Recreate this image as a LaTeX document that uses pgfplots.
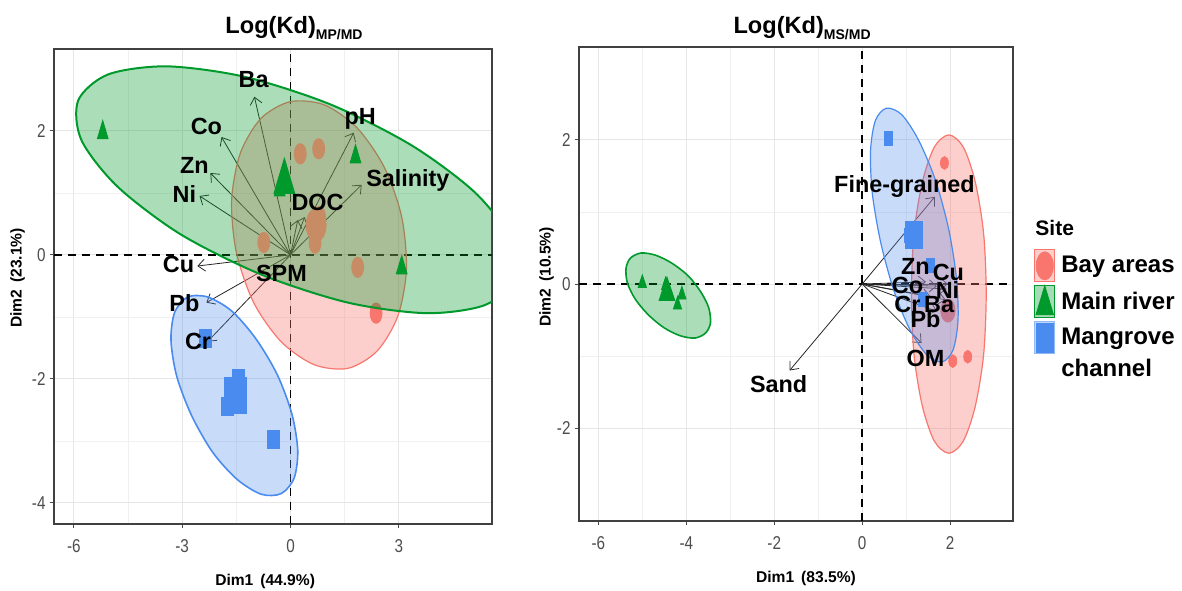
\documentclass[border=0pt]{standalone}
\usepackage{fontspec}
\setmainfont{Liberation Sans}
\newfontfamily\tickfont[FakeStretch=0.82]{Liberation Sans}
\usepackage{pgfplots}
\pgfplotsset{compat=1.18}
\usetikzlibrary{arrows.meta}
\definecolor{bay}{HTML}{F8766D}
\definecolor{bayb}{HTML}{C88C64}
\definecolor{riv}{HTML}{00992B}
\definecolor{man}{HTML}{4A8BEF}
\definecolor{grd}{HTML}{E6E6E6}
\definecolor{tkc}{HTML}{4D4D4D}
\pgfplotsset{
  pcabase/.style={
    scale only axis,
    clip marker paths=true,
    axis line style={draw=black!75, line width=0.7pt},
    tick align=outside,
    tick pos=left,
    major tick length=2.2pt,
    minor tick length=0pt,
    tick style={black!70, line width=0.5pt},
    grid=both,
    minor tick num=1,
    major grid style={grd, line width=0.5pt},
    minor grid style={grd!60, line width=0.3pt},
    ticklabel style={font=\fontsize{9.3}{11}\tickfont, text=tkc},
    xticklabel style={yshift=-2pt},
    yticklabel style={xshift=1.5pt},
    /pgf/number format/assume math mode=true,
    label style={font=\fontsize{7.8}{9}\selectfont\bfseries},
    title style={font=\fontsize{11.8}{13}\selectfont\bfseries},
  },
}
\tikzset{
  lab/.style={font=\fontsize{11.7}{13}\selectfont\bfseries, anchor=base, inner sep=0pt},
  vec/.style={black!85, line width=0.4pt, -{Straight Barb[length=3.5pt,width=6pt]}},
  refl/.style={black, line width=0.8pt, dash pattern=on 4pt off 3pt},
}
\begin{document}
\begin{tikzpicture}
\useasboundingbox (0,0) rectangle (591pt,295pt);
% ---------------- left panel ----------------
\begin{axis}[pcabase, at={(27pt,33pt)}, anchor=south west, width=219pt, height=237.5pt,
  xmin=-6.55, xmax=5.58, ymin=-4.34, ymax=3.32,
  xtick={-6,-3,0,3}, ytick={-4,-2,0,2},
  title={Log(Kd)\raisebox{-0.45ex}{\fontsize{7}{8}\selectfont MP/MD}},
  title style={at={(0.548,1)}, anchor=base, yshift=1.5pt},
  xlabel={Dim1\, (44.9\%)}, xlabel style={at={(0.482,0)}, anchor=base, yshift=-30.5pt},
  ylabel={Dim2\, (23.1\%)}, ylabel style={at={(-0.0833,0.518)}, anchor=center},
]
\addplot[refl] coordinates {(-6.55,0) (5.58,0)};
\addplot[refl] coordinates {(0,-4.34) (0,3.32)};
% variable arrows
\addplot[vec] coordinates {(0,0) (-1.00,2.55)};
\addplot[vec] coordinates {(0,0) (-1.91,1.90)};
\addplot[vec] coordinates {(0,0) (-2.22,1.32)};
\addplot[vec] coordinates {(0,0) (-2.52,0.95)};
\addplot[vec] coordinates {(0,0) (1.75,1.97)};
\addplot[vec] coordinates {(0,0) (1.97,1.13)};
\addplot[vec] coordinates {(0,0) (0.39,0.61)};
\addplot[vec] coordinates {(0,0) (0.20,0.56)};
\addplot[vec] coordinates {(0,0) (-2.58,-0.18)};
\addplot[vec] coordinates {(0,0) (-2.33,-0.77)};
\addplot[vec] coordinates {(0,0) (-2.30,-1.40)};
% Bay areas ellipse
\addplot[draw=bay, line width=0.6pt, fill=bay, fill opacity=0.35, smooth cycle] coordinates {
 (1.59,-1.83) (2.40,-1.55) (2.97,-0.99) (3.21,-0.24) (3.08,0.61) (2.60,1.41) (1.84,2.05) (0.93,2.42)
 (-0.01,2.47) (-0.82,2.20) (-1.39,1.64) (-1.63,0.88) (-1.50,0.04) (-1.02,-0.77) (-0.26,-1.40) (0.65,-1.77)};
\addplot[only marks, mark=*, mark size=3pt, color=bay, mark options={yscale=1.7}] coordinates {
 (2.37,-0.94)};
\addplot[only marks, mark=triangle*, mark size=3.13pt, color=riv, mark options={yscale=1.95}] coordinates {
 (-5.20,1.97) (1.80,1.58) (3.08,-0.21) (-0.30,1.05)};
% Main river ellipse
\addplot[draw=riv, line width=1pt, fill=riv, fill opacity=0.33, smooth cycle] coordinates {
 (6.21,-0.39) (5.38,-0.81) (3.76,-0.94) (1.59,-0.77) (-0.80,-0.32) (-3.04,0.33) (-4.79,1.10) (-5.79,1.85)
 (-5.88,2.49) (-5.05,2.91) (-3.42,3.04) (-1.26,2.87) (1.13,2.42) (3.37,1.76) (5.12,1.00) (6.12,0.24)};
% Bay-area points seen through the green ellipse
\addplot[only marks, mark=*, mark size=3pt, color=bayb, mark options={yscale=1.7}] coordinates {
 (0.27,1.63) (0.78,1.71) (-0.74,0.20) (0.68,0.19) (0.80,0.62) (1.86,-0.20)};
\addplot[only marks, mark=square*, mark size=3pt, color=man, mark options={yscale=1.5}] coordinates {
 (-2.36,-1.34) (-1.75,-2.45) (-1.45,-2.00) (-0.47,-2.98)};
% Mangrove ellipse
\addplot[draw=man, line width=0.8pt, fill=man, fill opacity=0.3, smooth cycle] coordinates {
 (-0.26,-3.85) (0.10,-3.60) (0.20,-3.15) (0.04,-2.57) (-0.36,-1.94) (-0.95,-1.36) (-1.62,-0.91) (-2.29,-0.68)
 (-2.85,-0.68) (-3.21,-0.93) (-3.31,-1.38) (-3.15,-1.96) (-2.74,-2.59) (-2.16,-3.18) (-1.48,-3.62) (-0.81,-3.86)};
% group means
\addplot[only marks, mark=*, mark size=5pt, color=bayb, mark options={yscale=1.65}] coordinates {(0.71,0.48)};
\addplot[only marks, mark=triangle*, mark size=6pt, color=riv, mark options={yscale=1.95}] coordinates {(-0.17,1.18)};
\addplot[only marks, mark=square*, mark size=5.5pt, color=man, mark options={yscale=1.65}] coordinates {(-1.54,-2.27)};
% labels
\node[lab] at (axis cs:-1.02,2.70) {Ba};
\node[lab] at (axis cs:-2.33,1.935) {Co};
\node[lab] at (axis cs:-2.66,1.31) {Zn};
\node[lab] at (axis cs:-2.94,0.84) {Ni};
\node[lab] at (axis cs:1.93,2.10) {pH};
\node[lab] at (axis cs:3.25,1.10) {Salinity};
\node[lab] at (axis cs:0.75,0.715) {DOC};
\node[lab] at (axis cs:-3.10,-0.285) {Cu};
\node[lab] at (axis cs:-0.25,-0.43) {SPM};
\node[lab] at (axis cs:-2.94,-0.91) {Pb};
\node[lab] at (axis cs:-2.56,-1.53) {Cr};
\end{axis}
% ---------------- right panel ----------------
\begin{axis}[pcabase, at={(289.5pt,34.5pt)}, anchor=south west, width=217pt, height=237pt,
  xmin=-6.44, xmax=3.43, ymin=-3.29, ymax=3.29,
  xtick={-6,-4,-2,0,2}, ytick={-2,0,2},
  title={Log(Kd)\raisebox{-0.45ex}{\fontsize{7}{8}\selectfont MS/MD}},
  title style={at={(0.514,1)}, anchor=base, yshift=0.5pt},
  xlabel={Dim1\, (83.5\%)}, xlabel style={at={(0.523,0)}, anchor=base, yshift=-30.75pt},
  ylabel={Dim2\, (10.5\%)}, ylabel style={at={(-0.0749,0.515)}, anchor=center},
  legend style={at={(1.048,0.574)}, anchor=north west, draw=none, fill=none, inner sep=0pt,
    font=\fontsize{12}{14}\selectfont\bfseries, row sep=1.5pt, column sep=2pt,
    nodes={inner sep=1pt}},
  legend cell align=left,
]
\addlegendimage{legend image code/.code={
  \draw[draw=bay, fill=bay!35, line width=0.5pt] (0pt,-8pt) rectangle (10pt,8pt);
  \fill[bay] (5pt,0pt) ellipse [x radius=4.3pt, y radius=7pt];}}
\addlegendentry{Bay areas}
\addlegendimage{legend image code/.code={
  \draw[draw=riv, fill=riv!35, line width=0.5pt] (0pt,-8pt) rectangle (10pt,8pt);
  \fill[riv] (0.6pt,-6.5pt) -- (9.4pt,-6.5pt) -- (5pt,8pt) -- cycle;}}
\addlegendentry{Main river}
\addlegendimage{legend image code/.code={
  \draw[draw=man!60, fill=man!35, line width=0.5pt] (0pt,-8pt) rectangle (10pt,8pt);
  \fill[man] (0.8pt,-7.2pt) rectangle (9.2pt,7.2pt);}}
\addlegendentry{Mangrove}
\addlegendimage{empty legend}
\addlegendentry{channel}
\addplot[refl] coordinates {(-6.44,0) (3.43,0)};
\addplot[refl] coordinates {(0,-3.29) (0,3.29)};
% arrows
\addplot[vec] coordinates {(0,0) (1.65,1.21)};
\addplot[vec] coordinates {(0,0) (-1.65,-1.20)};
\addplot[vec] coordinates {(0,0) (1.45,0.03)};
\addplot[vec] coordinates {(0,0) (1.95,0.00)};
\addplot[vec] coordinates {(0,0) (1.70,-0.03)};
\addplot[vec] coordinates {(0,0) (1.92,-0.07)};
\addplot[vec] coordinates {(0,0) (1.55,-0.17)};
\addplot[vec] coordinates {(0,0) (1.90,-0.22)};
\addplot[vec] coordinates {(0,0) (1.70,-0.38)};
\addplot[vec] coordinates {(0,0) (1.35,-0.82)};
% Bay areas
\addplot[draw=bay, line width=0.6pt, fill=bay, fill opacity=0.35, smooth cycle] coordinates {
 (2.82,-0.14) (2.76,0.71) (2.57,1.42) (2.30,1.90) (1.97,2.07) (1.64,1.90) (1.37,1.42) (1.18,0.71)
 (1.12,-0.14) (1.18,-0.99) (1.37,-1.70) (1.64,-2.18) (1.97,-2.35) (2.30,-2.18) (2.57,-1.70) (2.76,-0.99)};
\addplot[only marks, mark=*, mark size=2pt, color=bay, mark options={yscale=1.6}] coordinates {
 (1.87,1.68) (2.06,-1.07) (2.40,-1.01) (1.98,-0.30)};
\addplot[only marks, mark=triangle*, mark size=2.4pt, color=riv, mark options={yscale=1.75}] coordinates {
 (-5.00,0.01) (-4.47,-0.02) (-4.10,-0.15) (-4.20,-0.29)};
% Main river
\addplot[draw=riv, line width=0.8pt, fill=riv, fill opacity=0.33, smooth cycle] coordinates {
 (-3.56,-0.68) (-3.45,-0.54) (-3.49,-0.33) (-3.67,-0.11) (-3.96,0.115) (-4.33,0.29) (-4.70,0.40) (-5.03,0.43)
 (-5.27,0.36) (-5.37,0.22) (-5.34,0.015) (-5.16,-0.21) (-4.86,-0.43) (-4.50,-0.61) (-4.13,-0.72) (-3.80,-0.75)};
\addplot[only marks, mark=square*, mark size=2pt, color=man, mark options={yscale=1.75}] coordinates {
 (0.59,2.02) (1.05,0.68) (1.54,0.26) (1.36,-0.22)};
% Mangrove
\addplot[draw=man, line width=0.6pt, fill=man, fill opacity=0.3, smooth cycle] coordinates {
 (1.825,-1.08) (2.07,-0.91) (2.18,-0.49) (2.14,0.10) (1.96,0.78) (1.66,1.45) (1.28,2.00) (0.90,2.35)
 (0.55,2.44) (0.30,2.27) (0.19,1.85) (0.23,1.26) (0.42,0.58) (0.72,-0.09) (1.09,-0.64) (1.48,-0.99)};
% means
\addplot[only marks, mark=*, mark size=3.6pt, color=bay!70!man, mark options={yscale=1.6}] coordinates {(1.95,-0.37)};
\addplot[only marks, mark=triangle*, mark size=4.57pt, color=riv, mark options={yscale=1.7}] coordinates {(-4.44,-0.12)};
\addplot[only marks, mark=square*, mark size=4.25pt, color=man, mark options={yscale=1.57}] coordinates {(1.17,0.68)};
% labels
\node[lab] at (axis cs:0.96,1.27) {Fine-grained};
\node[lab] at (axis cs:-1.90,-1.51) {Sand};
\node[lab] at (axis cs:1.21,0.125) {Zn};
\node[lab] at (axis cs:1.96,0.055) {Cu};
\node[lab] at (axis cs:1.03,-0.125) {Co};
\node[lab] at (axis cs:1.94,-0.195) {Ni};
\node[lab] at (axis cs:1.03,-0.39) {Cr};
\node[lab] at (axis cs:1.75,-0.39) {Ba};
\node[lab] at (axis cs:1.44,-0.61) {Pb};
\node[lab] at (axis cs:1.44,-1.15) {OM};
\end{axis}
\node[anchor=west, inner sep=0pt, font=\fontsize{10.5}{12}\selectfont\bfseries] at (517.5pt,181pt) {Site};
\end{tikzpicture}
\end{document}
